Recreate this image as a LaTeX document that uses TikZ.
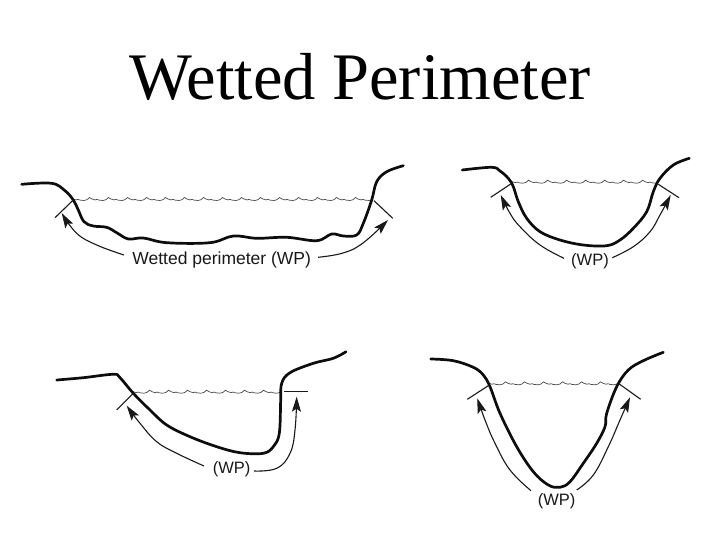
\documentclass[tikz,border=0pt]{standalone}
\usepackage{fontspec}
\setmainfont{Liberation Sans}
\newfontfamily\titlefont{Liberation Serif}
\usetikzlibrary{arrows.meta}
\tikzset{
  bed/.style={line width=2.7pt,line cap=round,line join=round,black!95},
  tick/.style={line width=1.1pt,black!90},
  sweep/.style={line width=1.1pt,black!90,-{Stealth[length=15pt,width=9pt,inset=3pt]}},
  water/.style={line width=0.7pt,black!70},
  wplabel/.style={font=\fontsize{16.5}{18}\selectfont,inner sep=0pt,black!90}
}
\newcommand{\ripple}[3]{% x0, x1, y
  \begin{scope}
    \clip (#1,#3-5) rectangle (#2,#3+5);
    \draw[water] (#1,#3) \foreach \k in {0,...,16} {
      -- ++(3,.9) -- ++(2,-.5) -- ++(2,.7) -- ++(4,.4) -- ++(3,-.8) -- ++(2.5,-2.2) -- ++(2.5,1.5)
    };
  \end{scope}
}
\begin{document}
\begin{tikzpicture}[x=1pt,y=-1pt]
\useasboundingbox[fill=white] (0,0) rectangle (720,540);
\node[font=\titlefont\fontsize{66.5}{70}\selectfont,anchor=base,inner sep=0pt] (title) at (360,99.5) {Wetted Perimeter};

% channel 1
\ripple{73}{372}{199}
\draw[bed] plot[smooth,tension=0.6] coordinates {(21.7,184.3)(51.7,183.3)(65,190.7)(73.3,200)(78.3,210)(84,221.7)(93.3,226)(106.7,227.3)(116.7,232.7)(128.3,239)(143.3,238)(166.7,242.7)(210,242.7)(233.3,236)(256.7,238.3)(286.7,237.3)(316.7,240.7)(331.7,234)(343.3,236)(356.7,235)(363.3,223.3)(371.7,200)(376.7,181.7)(386.7,171.7)(403.3,165.7)};
\draw[tick] (55,217.7) -- (73.3,200);
\draw[tick] (374,200.7) -- (392.7,218.3);
\draw[sweep] plot[smooth,tension=0.7] coordinates {(124,255)(96.7,245)(76.7,233.3)(61.7,213)};
\draw[sweep] plot[smooth,tension=0.7] coordinates {(318,257.3)(343,253)(363,243)(388,220)};
\node[wplabel,font=\fontsize{17.5}{18}\selectfont] (wp1) at (221.7,259.5) {Wetted perimeter (WP)};

% channel 2
\ripple{512}{657}{181.7}
\draw[bed] plot[smooth,tension=0.6] coordinates {(462.3,170)(491.7,167.3)(500,171)(508.3,178.3)(513.3,186.7)(518.3,201.7)(526.7,218.3)(540,231.7)(560,240)(583.3,245)(606.7,245.7)(620,240)(633.3,228.3)(646.7,211.7)(653.3,191.7)(660,178.3)(673.3,165)(689.3,158.3)};
\draw[tick] (490.7,197.3) -- (511.7,183.3);
\draw[tick] (658.3,184.3) -- (679,197.7);
\draw[sweep] plot[smooth,tension=0.7] coordinates {(564,258.3)(540,245)(520,226.7)(510,213.3)(500.7,195)};
\draw[sweep] plot[smooth,tension=0.7] coordinates {(612.3,257.7)(633.3,246.7)(650,231.7)(660,215)(670.7,195)};
\node[wplabel] (wp2) at (590,261.7) {(WP)};

% channel 3
\ripple{133}{280}{391.7}
\draw[bed] plot[smooth,tension=0.6] coordinates {(56.7,380)(83.3,377.7)(113.3,374.3)(120,377.7)(133.3,393.3)(150,410)(166.7,425)(190,436.7)(216.7,446.7)(240,452.7)(263.3,453.3)(273.3,446.7)(279.3,433.3)(280.7,400)(281.7,383.3)(290,372.7)(313.3,363.3)(333.3,358.3)(346,351.7)};
\draw[tick] (116.7,410) -- (133.3,393.3);
\draw[tick] (284.3,391.7) -- (308.3,391.7);
\draw[sweep] plot[smooth,tension=0.7] coordinates {(204,466)(176.7,453.3)(156.7,441.7)(140,423.3)(126.7,405.7)};
\draw[sweep] plot[smooth,tension=0.7] coordinates {(254,471)(276.7,468.3)(290,453.3)(295,430)(296.7,396.7)};
\node[wplabel] (wp3) at (231.7,469.3) {(WP)};

% channel 4
\ripple{489}{620}{383.3}
\draw[bed] plot[smooth,tension=0.6] coordinates {(430.7,359)(453.3,360.7)(473.3,367.3)(483.3,375)(490,386.7)(500,413.3)(516.7,446.7)(533.3,471.7)(548.3,485)(560,487.3)(570,481.7)(583.3,463.3)(596.7,443.3)(605,426.7)(606.7,413.3)(616.7,386.7)(628.3,370)(643.3,360.7)(663.3,352.3)};
\draw[tick] (467.3,399.3) -- (488.3,385.7);
\draw[tick] (619.3,384) -- (640.7,399.3);
\draw[sweep] plot[smooth,tension=0.7] coordinates {(531,490.7)(510,470)(495,443.3)(485,420)(477.3,398.3)};
\draw[sweep] plot[smooth,tension=0.7] coordinates {(576.7,490)(593.3,475)(608.3,446.7)(620,420)(630,397.3)};
\node[wplabel] (wp4) at (556.7,501) {(WP)};
\end{tikzpicture}
\end{document}
